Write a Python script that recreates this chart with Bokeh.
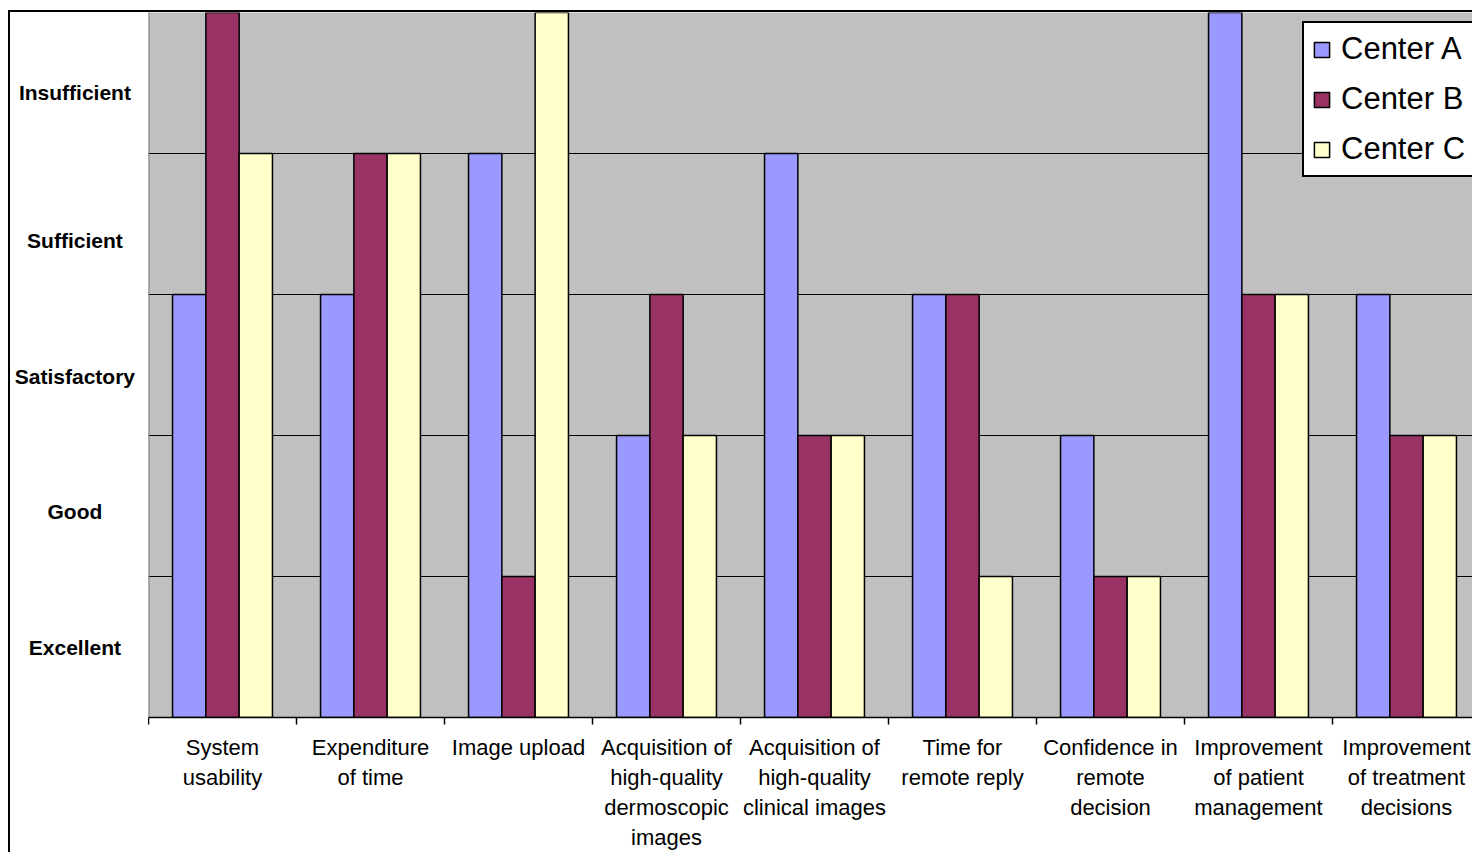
import numpy as np
from bokeh.plotting import figure
from bokeh.layouts import row
from bokeh.models import Range1d, FixedTicker, Legend, LegendItem
from bokeh.core.properties import value
from bokeh.embed import file_html
from bokeh.resources import INLINE

categories = [
    "System\nusability",
    "Expenditure\nof time",
    "Image upload",
    "Acquisition of\nhigh-quality\ndermoscopic\nimages",
    "Acquisition of\nhigh-quality\nclinical images",
    "Time for\nremote reply",
    "Confidence in\nremote\ndecision",
    "Improvement\nof patient\nmanagement",
    "Improvement\nof treatment\ndecisions",
]
center_a = [3, 3, 4, 2, 4, 3, 2, 5, 3]
center_b = [5, 4, 1, 3, 2, 3, 1, 3, 2]
center_c = [4, 4, 5, 2, 2, 1, 1, 3, 2]
series_names = ["Center A", "Center B", "Center C"]
series_colors = ["#9999FF", "#993366", "#FFFFCC"]
level_labels = ["Excellent", "Good", "Satisfactory", "Sufficient", "Insufficient"]
level_label_pos = [0.50, 1.46, 2.42, 3.38, 4.43]

FONT = "Liberation Sans"
n = len(categories)
idx = np.arange(n)
bw = 0.225
yr = Range1d(0, 5)

# left panel holding the level names (centred)
pl = figure(width=140, height=842, output_backend="svg", toolbar_location=None,
            x_range=Range1d(0, 1), y_range=yr, x_axis_type=None, y_axis_type=None,
            min_border_left=0, min_border_right=0, min_border_top=0, min_border_bottom=137)
pl.margin = (10, 0, 0, 8)
pl.styles = {"border-left": "2px solid black", "border-top": "2px solid black"}
pl.background_fill_color = "white"
pl.border_fill_color = "white"
pl.outline_line_color = None
pl.xgrid.visible = False
pl.ygrid.visible = False
pl.text(x=[0.46] * len(level_labels), y=level_label_pos, text=level_labels,
        text_font=value(FONT), text_font_style="bold", text_font_size="21px",
        text_color="black", text_align="center", text_baseline="middle")

p = figure(width=1324, height=842, output_backend="svg", toolbar_location=None,
           x_range=Range1d(0, 1324 / 148), y_range=yr,
           min_border_left=0, min_border_right=0, min_border_top=0, min_border_bottom=137)
p.margin = (10, 0, 0, 0)
p.styles = {"border-top": "2px solid black"}
p.background_fill_color = "#C0C0C0"
p.border_fill_color = "white"
p.outline_line_color = None

renderers = []
for k, (vals, color) in enumerate(zip([center_a, center_b, center_c], series_colors)):
    r = p.vbar(x=idx + 0.5 + (k - 1) * bw, top=vals, bottom=0, width=bw,
               fill_color=color, line_color="black", line_width=1.5)
    renderers.append(r)

# grid
p.xgrid.visible = False
p.ygrid.ticker = FixedTicker(ticks=[1, 2, 3, 4])
p.ygrid.grid_line_color = "black"
p.ygrid.grid_line_width = 1.2

# x axis
xa = p.xaxis[0]
xa.ticker = FixedTicker(ticks=list(idx + 0.5), minor_ticks=list(np.arange(n + 1)))
xa.major_label_overrides = {float(i + 0.5): c for i, c in enumerate(categories)}
xa.major_tick_line_color = None
xa.major_tick_out = 0
xa.major_tick_in = 0
xa.minor_tick_line_color = "black"
xa.minor_tick_line_width = 1.5
xa.minor_tick_out = 7
xa.minor_tick_in = 0
xa.axis_line_color = "black"
xa.axis_line_width = 1.5
xa.major_label_text_font = FONT
xa.major_label_text_font_size = "22px"
xa.major_label_text_color = "black"
xa.major_label_text_line_height = 1.2
xa.major_label_standoff = 10

# y axis: line only
p.yaxis.visible = False
p.ray(x=[0], y=[0], length=0, angle=np.pi / 2, line_color="#808080", line_width=2)

legend = Legend(items=[LegendItem(label=nm, renderers=[r]) for nm, r in zip(series_names, renderers)],
                location=(1154, 540))
legend.label_text_font = FONT
legend.label_text_font_size = "31px"
legend.label_text_color = "black"
legend.label_height = 34
legend.glyph_height = 19
legend.glyph_width = 19
legend.spacing = 14
legend.padding = 8
legend.margin = 0
legend.label_standoff = 10
legend.border_line_color = "black"
legend.border_line_width = 2
legend.border_line_alpha = 1
legend.background_fill_color = "white"
legend.background_fill_alpha = 1
p.add_layout(legend)

layout = row(pl, p, spacing=0)
open("out.html", "w").write(file_html(layout, INLINE))
